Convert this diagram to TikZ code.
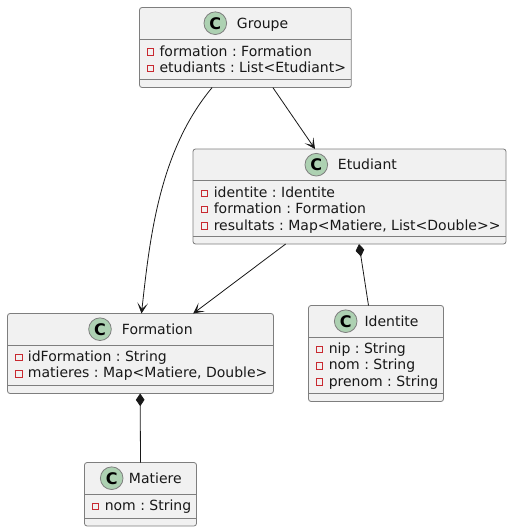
\documentclass[tikz,border=0pt]{standalone}
\usepackage{fontspec}
\setmainfont{DejaVu Sans}
\usetikzlibrary{arrows.meta}
\definecolor{ink}{HTML}{181818}
\definecolor{boxline}{HTML}{7E7E7E}
\definecolor{boxfill}{HTML}{F1F1F1}
\definecolor{circfill}{HTML}{ADD1B2}
\definecolor{privred}{HTML}{C82930}
\tikzset{
  classbox/.style={draw=boxline,fill=boxfill,line width=0.6pt,rounded corners=1.9pt,inner sep=0pt,outer sep=0pt},
  classrule/.style={draw=boxline,line width=0.6pt},
  badge/.style={circle,draw=boxline,fill=circfill,line width=0.6pt,minimum size=17pt,inner sep=0pt,font=\fontsize{12}{12}\selectfont\bfseries},
  titletext/.style={anchor=base west,inner sep=0pt,text=ink,font=\fontsize{10.5}{12}\selectfont\frenchspacing},
  attrtext/.style={anchor=base west,inner sep=0pt,text=ink,font=\fontsize{10.5}{12}\selectfont\frenchspacing},
  privmark/.style={draw=privred,line width=0.6pt,fill=none,minimum size=5pt,inner sep=0pt},
  link/.style={draw=ink,line width=0.6pt},
  arrowlink/.style={link,-{Stealth[length=8pt,width=8pt,inset=4.5pt]}},
  complink/.style={link,{Diamond[length=9.5pt,width=6.5pt]}-}
}
% name, x1, y1, x2, y2, header y, sep y, badge x, title x; title via \title<name>
\newcommand{\classblock}[9]{%
  \pgfmathsetmacro{\bw}{(#4-#2)*0.75}\pgfmathsetmacro{\bh}{(#5-#3)*0.75}%
  \node[classbox,minimum width=\bw pt,minimum height=\bh pt] (#1) at ({(#2+#4)/2},{(#3+#5)/2}) {};%
  \draw[classrule] (#2,#6) -- (#4,#6);%
  \draw[classrule] (#2,#7) -- (#4,#7);%
  \node[badge] (#1badge) at (#8,#3+15.7) {C};%
  \node[titletext] (#1title) at (#9,#3+20.5) {\csname title#1\endcsname};%
}
% id, marker x, baseline y, text
\newcommand{\attrline}[4]{%
  \node[privmark] (#1mark) at (#2,#3-4) {};%
  \node[attrtext] (#1text) at (#2+9,#3) {#4};%
}
\newcommand{\titlegr}{Groupe}
\newcommand{\titleet}{Etudiant}
\newcommand{\titlefo}{Formation}
\newcommand{\titleid}{Identite}
\newcommand{\titlema}{Matiere}
\begin{document}
\begin{tikzpicture}[x=0.75pt,y=-0.75pt]
\useasboundingbox (0,0) rectangle (512,532);
\classblock{gr}{139.5}{7.5}{351.3}{87.5}{39}{79}{215.3}{236.7}
\attrline{gra}{150.3}{56}{formation : Formation}
\attrline{grb}{150.3}{72.3}{etudiants : List<Etudiant>}
\classblock{et}{193}{149}{506}{244}{180.7}{236.7}{316.3}{337.7}
\attrline{eta}{204.5}{197.3}{identite : Identite}
\attrline{etb}{204.5}{213.5}{formation : Formation}
\attrline{etc}{204.5}{230}{resultats : Map<Matiere, List<Double>{}>}
\classblock{fo}{7.5}{313.5}{273.5}{393.5}{345}{385.5}{100}{121.7}
\attrline{foa}{18.7}{361.5}{idFormation : String}
\attrline{fob}{18.7}{377.8}{matieres : Map<Matiere, Double>}
\classblock{id}{308.5}{305.5}{443.5}{401.5}{337}{393}{345.7}{364.3}
\attrline{ida}{319.5}{353.5}{nip : String}
\attrline{idb}{319.5}{369.8}{nom : String}
\attrline{idc}{319.5}{386.1}{prenom : String}
\classblock{ma}{84.5}{462.5}{196.5}{526}{494}{518}{111.7}{128.7}
\attrline{maa}{95.5}{510.5}{nom : String}
\draw[arrowlink] ([xshift=54.5pt]gr.south west) .. controls (160,150) and (150,235) .. ([xshift=100.5pt]fo.north west);
\draw[arrowlink] ([xshift=100pt]gr.south west) -- ([xshift=91.5pt]et.north west);
\draw[arrowlink] ([xshift=69.5pt]et.south west) -- ([xshift=139.3pt]fo.north west);
\draw[complink] ([xshift=124.5pt]et.south west) -- ([xshift=45pt]id.north west);
\draw[complink] ([xshift=99.5pt]fo.south west) -- ([xshift=42pt]ma.north west);
\end{tikzpicture}
\end{document}
